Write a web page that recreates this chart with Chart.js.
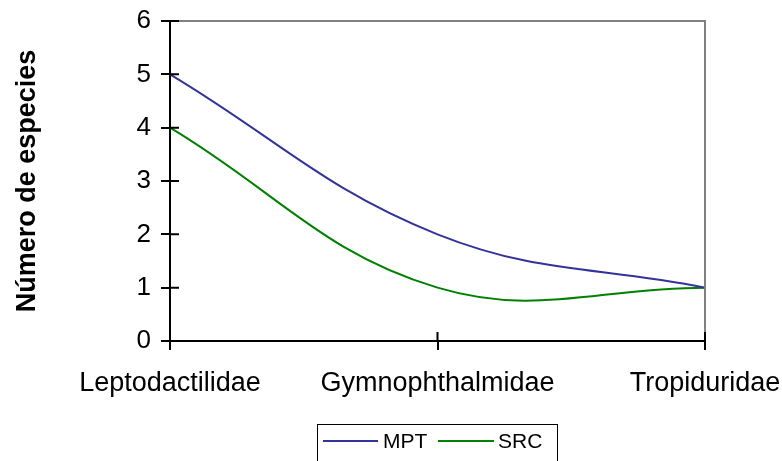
<!DOCTYPE html>
<html>
<head>
<meta charset="utf-8">
<script src="https://cdn.jsdelivr.net/npm/chart.js@4"></script>
<style>
  html, body { margin: 0; padding: 0; background: #fff; }
  #wrap { width: 782px; height: 461px; }
</style>
</head>
<body>
<div id="wrap"><canvas id="lineChart" width="782" height="461"></canvas></div>
<script>
// DATA
const families = ["Leptodactilidae", "Gymnophthalmidae", "Tropiduridae"];
const mpt = [5, 2, 1];
const src = [4, 1, 1];
const yTicks = [0, 1, 2, 3, 4, 5, 6];

const FONT = "'Liberation Sans', Arial, sans-serif";

// frame: gray top/right border, inner tick halves, legend box
const framePlugin = {
  id: "frame",
  afterDraw(chart) {
    const ctx = chart.ctx;
    const a = chart.chartArea;
    const x = chart.scales.x, y = chart.scales.y;
    ctx.save();
    // gray border
    ctx.strokeStyle = "#808080";
    ctx.lineWidth = 2;
    ctx.beginPath();
    ctx.moveTo(a.left + 9, a.top);
    ctx.lineTo(a.right, a.top);
    ctx.lineTo(a.right, a.bottom - 9);
    ctx.stroke();
    // inner halves of ticks
    ctx.strokeStyle = "#000";
    ctx.beginPath();
    yTicks.forEach(v => {
      const py = y.getPixelForValue(v);
      ctx.moveTo(a.left, py);
      ctx.lineTo(a.left + 9, py);
    });
    families.forEach((f, i) => {
      const px = x.getPixelForValue(i);
      ctx.moveTo(px, a.bottom);
      ctx.lineTo(px, a.bottom - 9);
    });
    ctx.stroke();

    // legend
    ctx.lineWidth = 1;
    ctx.strokeStyle = "#000";
    ctx.strokeRect(317.5, 424.5, 240, 60);
    const ly = 441;
    ctx.font = "21px " + FONT;
    ctx.fillStyle = "#000";
    ctx.textBaseline = "middle";
    ctx.lineWidth = 2;
    ctx.strokeStyle = "#333399";
    ctx.beginPath(); ctx.moveTo(323, ly); ctx.lineTo(378, ly); ctx.stroke();
    ctx.fillText("MPT", 383, ly + 1);
    ctx.strokeStyle = "#008000";
    ctx.beginPath(); ctx.moveTo(438, ly); ctx.lineTo(494, ly); ctx.stroke();
    ctx.fillText("SRC", 498, ly + 1);
    ctx.restore();
  }
};

new Chart(document.getElementById("lineChart"), {
  type: "line",
  data: {
    labels: families,
    datasets: [
      { label: "MPT", data: mpt, borderColor: "#333399", borderWidth: 2, tension: 0.4, pointRadius: 0, fill: false },
      { label: "SRC", data: src, borderColor: "#008000", borderWidth: 2, tension: 0.4, pointRadius: 0, fill: false }
    ]
  },
  options: {
    responsive: false,
    animation: false,
    layout: { padding: { left: 0, right: 77, top: 21, bottom: 0 } },
    plugins: {
      legend: { display: false },
      tooltip: { enabled: false }
    },
    scales: {
      x: {
        offset: false,
        grid: { drawOnChartArea: false, tickLength: 9, color: "#000", lineWidth: 2 },
        border: { color: "#000", width: 2 },
        ticks: { color: "#000", font: { family: FONT, size: 27 }, padding: 17, maxRotation: 0, autoSkip: false },
        afterFit(scale) {
          scale.height = 120;
          scale.paddingLeft = 0;
          scale.paddingRight = 0;
        }
      },
      y: {
        min: 0,
        max: 6,
        grid: { drawOnChartArea: false, tickLength: 9, color: "#000", lineWidth: 2 },
        border: { color: "#000", width: 2 },
        ticks: { stepSize: 1, color: "#000", font: { family: FONT, size: 26 }, padding: 10 },
        title: {
          display: true,
          text: "Número de especies",
          color: "#000",
          font: { family: FONT, size: 27, weight: "bold" },
          padding: { top: 11, bottom: 0 }
        },
        afterFit(scale) {
          scale.width = 170;
          scale.paddingTop = 0;
          scale.paddingBottom = 0;
        }
      }
    }
  },
  plugins: [framePlugin]
});
</script>
</body>
</html>
